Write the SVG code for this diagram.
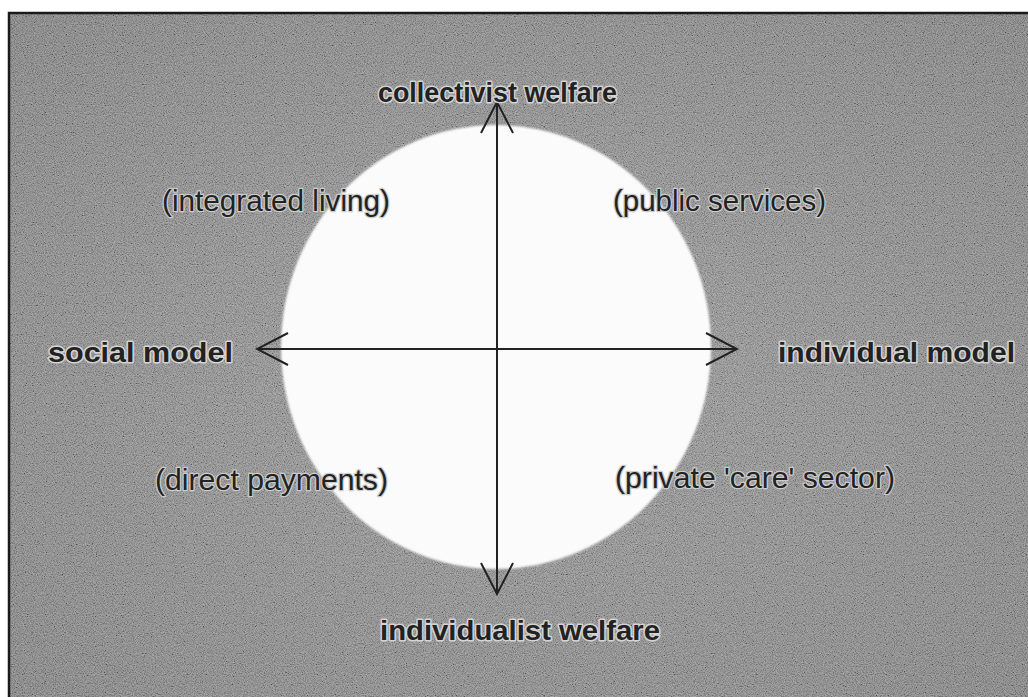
<svg xmlns="http://www.w3.org/2000/svg" width="1028" height="697" viewBox="0 0 1028 697">
  <defs>
    <radialGradient id="bg" cx="50%" cy="50%" r="70%">
      <stop offset="0" stop-color="#939393"/>
      <stop offset="1" stop-color="#767676"/>
    </radialGradient>
    <filter id="noise" x="0" y="0" width="100%" height="100%">
      <feTurbulence type="fractalNoise" baseFrequency="0.9" numOctaves="2" seed="7"/>
      <feColorMatrix type="matrix" values="1.6 0 0 0 -0.3  1.6 0 0 0 -0.3  1.6 0 0 0 -0.3  0 0 0 0 1"/>
    </filter>
    <filter id="soft" x="-5%" y="-5%" width="110%" height="110%">
      <feGaussianBlur stdDeviation="1.2"/>
    </filter>
    <marker id="open" viewBox="0 0 34 34" refX="32" refY="17" markerWidth="34" markerHeight="34" markerUnits="userSpaceOnUse" orient="auto-start-reverse">
      <path d="M1,1 L32,17 L1,33" fill="none" stroke="#222" stroke-width="2"/>
    </marker>
    <style>
      .axis { stroke: #222; stroke-width: 2; fill: none; }
      .pole { font-family: "Liberation Sans", Arial, sans-serif; font-weight: bold; font-size: 28px; fill: #222; stroke: #d4d4d4; stroke-width: 3; paint-order: stroke; stroke-linejoin: round; }
      .quad { font-family: "Liberation Sans", Arial, sans-serif; font-size: 29px; fill: #222; stroke: #cccccc; stroke-width: 2.5; paint-order: stroke; stroke-linejoin: round; }
    </style>
  </defs>

  <rect x="0" y="0" width="1028" height="697" fill="#ffffff"/>
  <g id="background">
    <rect x="9" y="13" width="1030" height="700" fill="url(#bg)"/>
    <rect x="9" y="13" width="1030" height="700" filter="url(#noise)" opacity="0.35"/>
    <rect x="9" y="13" width="1030" height="700" fill="none" stroke="#1a1a1a" stroke-width="2.5"/>
    <ellipse cx="496" cy="347" rx="215" ry="222" fill="#fbfbfb" filter="url(#soft)"/>
  </g>

  <g id="connectors">
    <line class="axis" x1="497" y1="349" x2="497" y2="102" marker-end="url(#open)"/>
    <line class="axis" x1="497" y1="349" x2="497" y2="594" marker-end="url(#open)"/>
    <line class="axis" x1="497" y1="349" x2="257" y2="349" marker-end="url(#open)"/>
    <line class="axis" x1="497" y1="349" x2="737" y2="349" marker-end="url(#open)"/>
  </g>

  <g id="collectivist-welfare">
    <text class="pole" x="378" y="102" textLength="239" lengthAdjust="spacingAndGlyphs">collectivist welfare</text>
  </g>
  <g id="individualist-welfare">
    <text class="pole" x="380" y="640" textLength="280" lengthAdjust="spacingAndGlyphs">individualist welfare</text>
  </g>
  <g id="social-model">
    <text class="pole" x="48" y="362" textLength="185" lengthAdjust="spacingAndGlyphs">social model</text>
  </g>
  <g id="individual-model">
    <text class="pole" x="778" y="362" textLength="237" lengthAdjust="spacingAndGlyphs">individual model</text>
  </g>
  <g id="integrated-living">
    <text class="quad" x="162" y="211" textLength="228" lengthAdjust="spacingAndGlyphs">(integrated living)</text>
  </g>
  <g id="public-services">
    <text class="quad" x="613" y="211" textLength="213" lengthAdjust="spacingAndGlyphs">(public services)</text>
  </g>
  <g id="direct-payments">
    <text class="quad" x="155" y="490" textLength="233" lengthAdjust="spacingAndGlyphs">(direct payments)</text>
  </g>
  <g id="private-care-sector">
    <text class="quad" x="615" y="488" textLength="280" lengthAdjust="spacingAndGlyphs">(private 'care' sector)</text>
  </g>
</svg>
